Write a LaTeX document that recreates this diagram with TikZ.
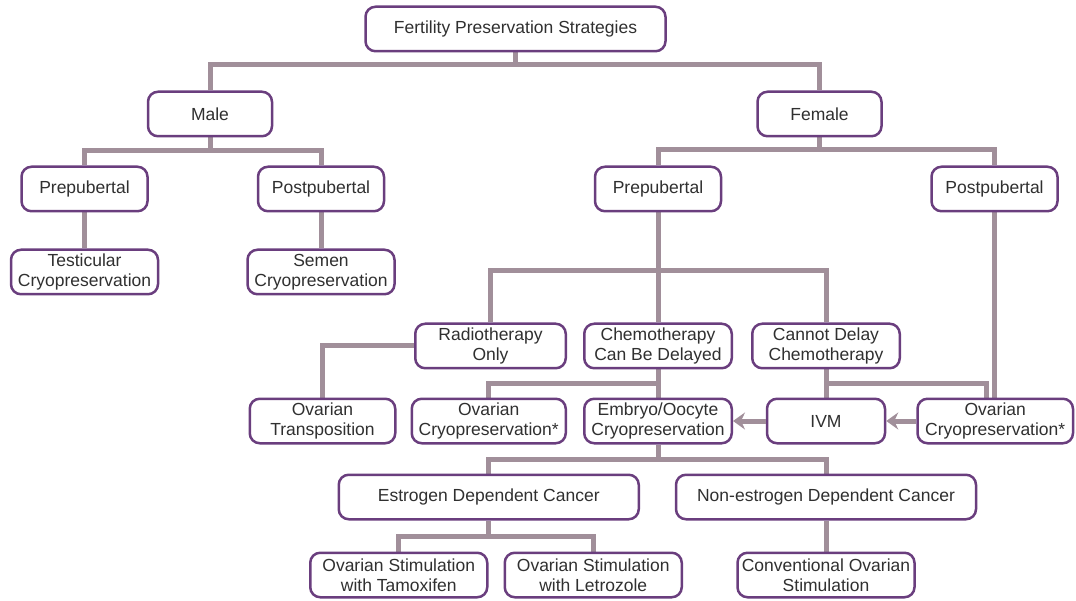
\documentclass[tikz,border=0pt]{standalone}
\usepackage{fontspec}
\setmainfont{Liberation Sans}
\usepackage{tikz}
\usetikzlibrary{positioning,arrows.meta,backgrounds}
\definecolor{fpPurple}{HTML}{6A3E7E}
\definecolor{fpLink}{HTML}{A18F9A}
\definecolor{fpText}{HTML}{303030}

\begin{document}
\begin{tikzpicture}[
  x=1pt, y=-1pt,
  every node/.style={font=\fontsize{17.5}{20.5}\selectfont, text=fpText},
  box/.style={rectangle, rounded corners=10pt, draw=fpPurple, line width=2.5pt,
              fill=white, align=center, minimum height=44.5pt, inner sep=2pt},
  link/.style={line width=5pt, fpLink},
  arr/.style={-{Stealth[length=12pt, width=17pt, inset=4pt]}, line width=5pt, fpLink}
]
  \useasboundingbox (0,0) rectangle (1076,601);

  % top levels
  \node[box, minimum width=300pt] (root) at (515.5,29) {Fertility Preservation Strategies};
  \node[box, minimum width=124pt] (male) at (210,114) {Male};
  \node[box, minimum width=124pt] (female) at (819.5,114) {Female};

  % male branch
  \node[box, minimum width=126pt] (mpre) at (84.5,189) {Prepubertal};
  \node[box, minimum width=126pt, right=108pt of mpre] (mpost) {Postpubertal};
  \node[box, minimum width=147pt, below=36pt of mpre] (testi) {Testicular\\Cryopreservation};
  \node[box, minimum width=147pt, below=36pt of mpost] (semen) {Semen\\Cryopreservation};

  % female branch
  \node[box, minimum width=126pt] (fpre) at (658,189) {Prepubertal};
  \node[box, minimum width=126pt, right=208pt of fpre] (fpost) {Postpubertal};
  \node[box, minimum width=147.5pt, below=110pt of fpre] (chemo) {Chemotherapy\\Can Be Delayed};
  \node[box, minimum width=150.5pt, left=16pt of chemo] (radio) {Radiotherapy\\Only};
  \node[box, minimum width=147.5pt, right=18pt of chemo] (cannot) {Cannot Delay\\Chemotherapy};

  \node[box, minimum width=147.5pt, below=28pt of chemo] (embryo) {Embryo/Oocyte\\Cryopreservation};
  \node[box, minimum width=154pt, left=16pt of embryo] (ovcryoL) {Ovarian\\Cryopreservation*};
  \node[box, minimum width=145.5pt, left=14pt of ovcryoL] (transp) {Ovarian\\Transposition};
  \node[box, minimum width=118pt, below=28pt of cannot] (ivm) {IVM};
  \node[box, minimum width=155.5pt, right=30pt of ivm] (ovcryoR) {Ovarian\\Cryopreservation*};

  \node[box, minimum width=300pt, below=29pt of ovcryoL] (estro) {Estrogen Dependent Cancer};
  \node[box, minimum width=300pt, below=29pt of ivm] (nonestro) {Non-estrogen Dependent Cancer};
  \node[box, minimum width=177pt, below=31pt of estro, xshift=-90pt] (tamox) {Ovarian Stimulation\\with Tamoxifen};
  \node[box, minimum width=177pt, right=15pt of tamox] (letro) {Ovarian Stimulation\\with Letrozole};
  \node[box, minimum width=177pt, below=31pt of nonestro] (conv) {Conventional Ovarian\\Stimulation};

  % tree lines
  \begin{scope}[on background layer]
    \draw[link] (root.south) -- ([yshift=-12pt]root.south);
    \draw[link] (male.north) |- ([yshift=-12pt]root.south) -| (female.north);
    \draw[link] (male.south) -- ([yshift=-13pt]male.south);
    \draw[link] (mpre.north) |- ([yshift=-13pt]male.south) -| (mpost.north);
    \draw[link] (mpre) -- (testi);
    \draw[link] (mpost) -- (semen);
    \draw[link] (female.south) -- ([yshift=-12pt]female.south);
    \draw[link] (fpre.north) |- ([yshift=-12pt]female.south) -| (fpost.north);
    \draw[link] (fpre) -- (chemo);
    \draw[link] (radio.north) |- ([yshift=-58pt]fpre.south) -| (cannot.north);
    \draw[link] (radio.west) -| (transp.north);
    \draw[link] (chemo) -- (embryo);
    \draw[link] (ovcryoL.north) |- ([yshift=-14pt]chemo.south);
    \draw[link] (cannot) -- (ivm);
    \draw[link] ([xshift=-9pt]ovcryoR.north) |- ([yshift=-14pt]cannot.south);
    \draw[link] (fpost.south) -- (fpost.south |- ovcryoR.north);
    \draw[link] (embryo.south) -- ([yshift=-15pt]embryo.south);
    \draw[link] (estro.north) |- ([yshift=-15pt]embryo.south) -| (nonestro.north);
    \draw[link] (estro.south) -- ([yshift=-16pt]estro.south);
    \draw[link] (tamox.north) |- ([yshift=-16pt]estro.south) -| (letro.north);
    \draw[link] (nonestro) -- (conv);
  \end{scope}

  \draw[arr] (ovcryoR) -- (ivm);
  \draw[arr] (ivm) -- (embryo);
\end{tikzpicture}
\end{document}
